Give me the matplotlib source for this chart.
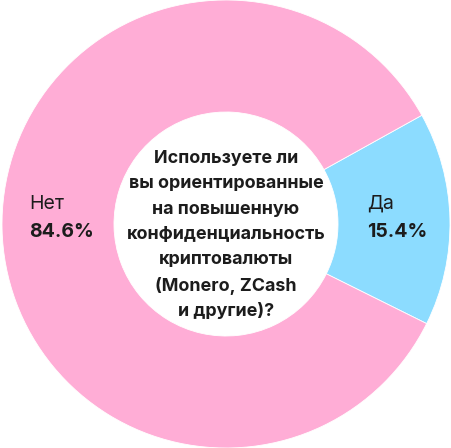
import matplotlib.pyplot as plt

plt.rcParams['font.family'] = ['Inter', 'DejaVu Sans']

labels = ['Да', 'Нет']
values = [15.4, 84.6]
colors = ['#8CDCFF', '#FFADD6']
question = ('Используете ли\nвы ориентированные\nна повышенную\nконфиденциальность\n'
            'криптовалюты\n(Monero, ZCash\nи другие)?')

fig = plt.figure(figsize=(4.52, 4.48), dpi=100)
ax = fig.add_axes([0, 0, 1, 1])
ax.pie(values, colors=colors, startangle=-26.4, counterclock=True,
       wedgeprops=dict(width=0.5, edgecolor='white', linewidth=0.6), radius=1.0)
ax.set_xlim(-226 / 224, 226 / 224)
ax.set_ylim(-1, 1)
ax.set_aspect('equal')
ax.axis('off')

ax.text(0, -0.05, question, ha='center', va='center', fontsize=12.9,
        fontweight='bold', color='#1c1c1c', linespacing=1.64)

# подписи сегментов
ax.text(0.63, 0.09, labels[0], ha='left', va='center', fontsize=14, color='#1c1c1c')
ax.text(0.63, -0.035, f'{values[0]}%', ha='left', va='center', fontsize=14,
        fontweight='bold', color='#1c1c1c')
ax.text(-0.88, 0.09, labels[1], ha='left', va='center', fontsize=14, color='#1c1c1c')
ax.text(-0.88, -0.035, f'{values[1]}%', ha='left', va='center', fontsize=14,
        fontweight='bold', color='#1c1c1c')

fig.savefig('out.png', dpi=100)
